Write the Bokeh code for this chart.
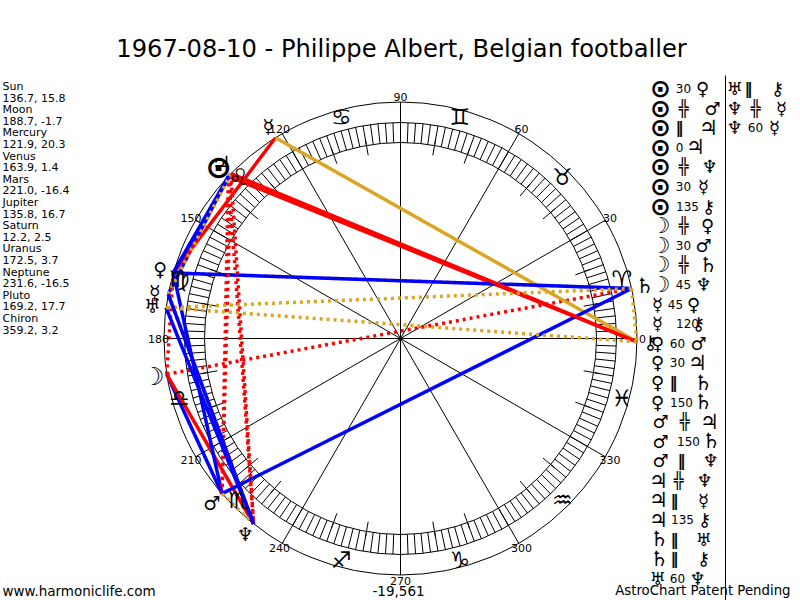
import numpy as np
from bokeh.plotting import figure
from bokeh.models import Range1d
from bokeh.core.properties import value
from bokeh.embed import file_html
from bokeh.resources import INLINE

# ---- data ----
TITLE = "1967-08-10 - Philippe Albert, Belgian footballer"
PLANETS = ["Sun", "Moon", "Mercury", "Venus", "Mars", "Jupiter", "Saturn", "Uranus", "Neptune", "Pluto", "Chiron"]
LONGITUDE = [136.7, 188.7, 121.9, 163.9, 221.0, 135.8, 12.2, 172.5, 231.6, 169.2, 359.2]
LATITUDE = [15.8, -1.7, 20.3, 1.4, -16.4, 16.7, 2.5, 3.7, -16.5, 17.7, 3.2]
SYMBOLS = ["\u2299", "\u263D", "\u263F", "\u2640", "\u2642", "\u2643", "\u2644", "\u2645", "\u2646", "\u263F", "\u26B7"]
ZODIAC = ["\u2648", "\u2649", "\u264A", "\u264B", "\u264C", "\u264D", "\u264E", "\u264F", "\u2650", "\u2651", "\u2652", "\u2653"]
DEGREE_LABELS = [0, 30, 60, 90, 120, 150, 180, 210, 240, 270, 300, 330]
ASPECT_A = ["Sun", "Sun", "Sun", "Sun", "Sun", "Sun", "Sun", "Moon", "Moon", "Moon", "Moon", "Mercury", "Mercury",
            "Venus", "Venus", "Venus", "Venus", "Mars", "Mars", "Mars", "Jupiter", "Jupiter", "Jupiter",
            "Saturn", "Saturn", "Uranus", "Uranus", "Neptune", "Neptune"]
ASPECT_KIND = ["30", "##", "||", "0", "##", "30", "135", "##", "30", "##", "45", "45", "120",
               "60", "30", "||", "150", "##", "150", "||", "##", "||", "135",
               "||", "||", "60", "||", "##", "60"]
ASPECT_B = ["Venus", "Mars", "Jupiter", "Jupiter", "Neptune", "Pluto", "Chiron", "Venus", "Mars", "Saturn", "Neptune", "Venus", "Chiron",
            "Mars", "Jupiter", "Saturn", "Saturn", "Jupiter", "Saturn", "Neptune", "Neptune", "Pluto", "Chiron",
            "Uranus", "Chiron", "Neptune", "Chiron", "Pluto", "Pluto"]
FOOTER_L = "www.harmoniclife.com"
FOOTER_M = "-19,561"
FOOTER_R = "AstroChart Patent Pending"

# ---- layout and styles ----
CX, CY = 400, 338
W, H = 800, 600
R_OUT, R_ZOD, R_RING_O, R_RING_I, R_LONG, R_PLANET, R_DEG = 236.5, 229, 216, 196, 186, 250, 242
GOLD, RED, BLUE = "#daa520", "#ff0000", "#0000ff"
ASPECT_STYLE = {
    "0": (None, 0, "solid"), "30": (BLUE, 3.5, "solid"), "60": (BLUE, 3.5, "solid"), "150": (BLUE, 3.5, "solid"),
    "45": (RED, 3.5, "solid"), "135": (RED, 3.5, "solid"), "120": (GOLD, 3.5, "solid"),
    "||": (GOLD, 3.5, "3 4"), "##": (RED, 3.5, "3 4"),
}
ASPECT_TEXT = {"||": "\u2016", "##": "\u256C"}
ROWS = 26
ROW0, ROWDY = 88, 19.6
X1 = [660] * 11 + [657] * 6 + [660] * 3 + [658] * 3 + [659] * 2 + [657, 734, 734, 734]
XA = [683, 683, 679, 679, 683, 683, 687, 683, 683, 683, 683, 675, 687,
      677, 677, 673, 681, 684, 688, 681, 678, 674, 682, 674, 674, 677, 748, 755, 755]
X2 = [702, 712, 708, 695, 709, 703, 708, 707, 703, 708, 703, 693, 698,
      698, 697, 703, 703, 709, 711, 710, 704, 703, 704, 703, 703, 697, 777, 781, 774]
SIZE_PLANET = {"\u2299": "32px", "\u263D": "25px", "\u2643": "21px", "\u2644": "21px"}
SIZE_LEGEND = {"\u2299": "25px", "\u263D": "22px", "\u2643": "21px", "\u2644": "21px"}


def px(x):
    return x - CX


def py(y):
    return CY - y


def polar(deg, r):
    a = np.radians(np.asarray(deg, dtype=float))
    return r * np.cos(a), r * np.sin(a)


p = figure(width=W, height=H, output_backend="svg", toolbar_location=None,
           x_range=Range1d(-CX, W - CX), y_range=Range1d(CY - H, CY), min_border=0)
p.axis.visible = False
p.grid.visible = False
p.outline_line_color = None

FONT = value("DejaVu Sans")


def glyph_text(xs, ys, texts, sizes):
    """Draw symbols one by one: the font's sizes differ per glyph."""
    for xv, yv, t, s in zip(xs, ys, texts, sizes):
        p.text([xv], [yv], text=[t], text_font=FONT, text_font_size=s,
               text_font_style="bold" if t == "\u2299" else "normal",
               text_align="center", text_baseline="middle", text_color="black")


# rings
for r in (R_OUT, R_RING_O, R_RING_I):
    p.circle(x=[0], y=[0], radius=r, fill_color=None, line_color="black", line_width=1)

# degree ticks
ticks = np.arange(0, 360, 2)
x0, y0 = polar(ticks, R_RING_I)
x1, y1 = polar(ticks, R_RING_O)
p.segment(x0, y0, x1, y1, line_color="black", line_width=1)

longs = np.arange(0, 360, 10)
longs = longs[longs % 30 != 0]
x0, y0 = polar(longs, R_LONG)
x1, y1 = polar(longs, R_RING_I + 6)
p.segment(x0, y0, x1, y1, line_color="black", line_width=1)

# spokes
x1, y1 = polar(DEGREE_LABELS, R_OUT)
p.segment(np.zeros(12), np.zeros(12), x1, y1, line_color="black", line_width=1)

# aspect lines
lon = dict(zip(PLANETS, LONGITUDE))
for a, k, b in zip(ASPECT_A, ASPECT_KIND, ASPECT_B):
    color, width, dash = ASPECT_STYLE[k]
    if color is None:
        continue
    xa, ya = polar(lon[a], R_OUT)
    xb, yb = polar(lon[b], R_OUT)
    p.line([xa, xb], [ya, yb], line_color=color, line_width=width, line_dash=dash)

# degree labels
x, y = polar(DEGREE_LABELS, R_DEG)
p.text(x, y, text=[str(d) for d in DEGREE_LABELS], text_font=FONT, text_font_size="11px",
       text_align="center", text_baseline="middle", text_color="black")

# zodiac glyphs
zod_deg = [15 + 30 * i for i in range(12)]
x, y = polar(zod_deg, R_ZOD)
p.text(x, y, text=ZODIAC, text_font=FONT, text_font_size="23px",
       text_align="center", text_baseline="middle", text_color="black")

# planets
x, y = polar(LONGITUDE, R_PLANET)
glyph_text(x, y, SYMBOLS, [SIZE_PLANET.get(s, "19px") for s in SYMBOLS])

# left list
lx, ly, lt = [], [], []
for i, (n, lo, la) in enumerate(zip(PLANETS, LONGITUDE, LATITUDE)):
    lx += [px(2), px(2)]
    ly += [py(86 + 23.2 * i), py(97.6 + 23.2 * i)]
    lt += [n, f"{lo}, {la}"]
p.text(lx, ly, text=lt, text_font=FONT, text_font_size="11px", text_align="left",
       text_baseline="middle", text_color="black")

# aspect legend
sym = dict(zip(PLANETS, SYMBOLS))
row_y = [py(ROW0 + ROWDY * (i if i < ROWS else i - ROWS)) for i in range(len(ASPECT_A))]
t1 = [sym[a] for a in ASPECT_A]
glyph_text([px(v) for v in X1], row_y, t1, [SIZE_LEGEND.get(s, "18px") for s in t1])
t2 = [sym[b] for b in ASPECT_B]
glyph_text([px(v) for v in X2], row_y, t2, [SIZE_LEGEND.get(s, "18px") for s in t2])
nums = [i for i, k in enumerate(ASPECT_KIND) if k not in ASPECT_TEXT]
p.text([px(XA[i]) for i in nums], [row_y[i] for i in nums], text=[ASPECT_KIND[i] for i in nums],
       text_font=FONT, text_font_size="12px", text_align="center", text_baseline="middle", text_color="black")
syms = [i for i, k in enumerate(ASPECT_KIND) if k in ASPECT_TEXT]
p.text([px(XA[i]) for i in syms], [row_y[i] for i in syms], text=[ASPECT_TEXT[ASPECT_KIND[i]] for i in syms],
       text_font=FONT, text_font_size="16px", text_font_style="bold", text_align="center",
       text_baseline="middle", text_color="black")

# divider
p.line([px(725), px(725)], [py(75), py(600)], line_color="black", line_width=1)

# title and footer
p.text([px(401)], [py(48)], text=[TITLE], text_font=FONT, text_font_size="24.2px", text_align="center",
       text_baseline="middle", text_color="black")
p.text([px(2)], [py(590)], text=[FOOTER_L], text_font=FONT, text_font_size="13.5px", text_align="left",
       text_baseline="middle", text_color="black")
p.text([px(398)], [py(590)], text=[FOOTER_M], text_font=FONT, text_font_size="13.5px", text_align="center",
       text_baseline="middle", text_color="black")
p.text([px(790)], [py(590)], text=[FOOTER_R], text_font=FONT, text_font_size="13.3px", text_align="right",
       text_baseline="middle", text_color="black")

open("out.html", "w").write(file_html(p, INLINE))
